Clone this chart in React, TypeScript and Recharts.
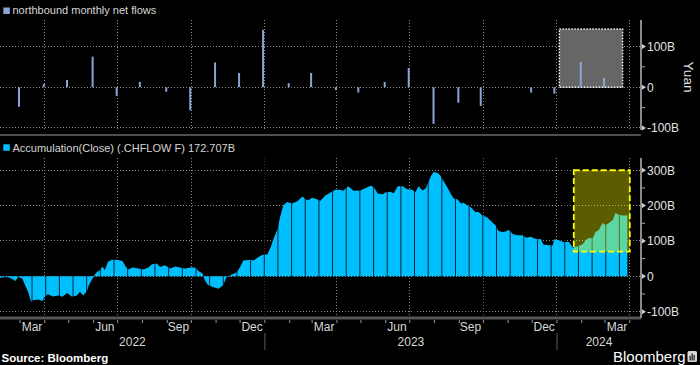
import React from 'react';
import { ComposedChart, Bar, Area, XAxis, YAxis, ReferenceLine, ReferenceArea, CartesianGrid } from 'recharts';

const FONT = "'Liberation Sans', Arial, Helvetica, sans-serif";

// ---- monthly net flows (billion yuan), bar at month end ----
const flowMonths = [
  '2022-02-28', '2022-03-31', '2022-04-29', '2022-05-31', '2022-06-30', '2022-07-29',
  '2022-08-31', '2022-09-30', '2022-10-31', '2022-11-30', '2022-12-30', '2023-01-31',
  '2023-02-28', '2023-03-31', '2023-04-28', '2023-05-31', '2023-06-30', '2023-07-31',
  '2023-08-31', '2023-09-28', '2023-10-31', '2023-11-30', '2023-12-29', '2024-01-31',
  '2024-02-29',
];
const flowValues = [
  -48, 8, 18, 75, -21, 13, -11, -57, 61, 35, 141, 10, 35, -7, -13, 13, 47, -90, -38, -46, 1,
  -13, -16, 62, 23,
];

// ---- accumulated flows (billion yuan) ----
const accDates = [
  '2022-02-04', '2022-02-13', '2022-02-19', '2022-02-23', '2022-02-27', '2022-03-04', '2022-03-07',
  '2022-03-11', '2022-03-15', '2022-03-17', '2022-03-24', '2022-03-29', '2022-04-01', '2022-04-05',
  '2022-04-11', '2022-04-18', '2022-04-23', '2022-04-29', '2022-05-05', '2022-05-11', '2022-05-15',
  '2022-05-19', '2022-05-24', '2022-05-26', '2022-05-30', '2022-06-02', '2022-06-05', '2022-06-09',
  '2022-06-12', '2022-06-15', '2022-06-19', '2022-06-24', '2022-06-30', '2022-07-07', '2022-07-10',
  '2022-07-14', '2022-07-20', '2022-07-27', '2022-08-02', '2022-08-08', '2022-08-13', '2022-08-19',
  '2022-08-23', '2022-08-29', '2022-09-05', '2022-09-11', '2022-09-17', '2022-09-23', '2022-09-30',
  '2022-10-06', '2022-10-10', '2022-10-15', '2022-10-18', '2022-10-22', '2022-10-28', '2022-11-04',
  '2022-11-10', '2022-11-14', '2022-11-21', '2022-11-27', '2022-12-01', '2022-12-05', '2022-12-14',
  '2022-12-18', '2022-12-23', '2022-12-29', '2023-01-04', '2023-01-08', '2023-01-12', '2023-01-17',
  '2023-01-20', '2023-01-24', '2023-01-29', '2023-02-04', '2023-02-11', '2023-02-17', '2023-02-21',
  '2023-02-24', '2023-03-01', '2023-03-08', '2023-03-11', '2023-03-18', '2023-03-24', '2023-03-30',
  '2023-04-05', '2023-04-09', '2023-04-15', '2023-04-22', '2023-04-30', '2023-05-07', '2023-05-13',
  '2023-05-17', '2023-05-22', '2023-05-28', '2023-06-01', '2023-06-07', '2023-06-11', '2023-06-16',
  '2023-06-22', '2023-06-28', '2023-07-04', '2023-07-08', '2023-07-12', '2023-07-17', '2023-07-21',
  '2023-07-23', '2023-07-28', '2023-07-31', '2023-08-05', '2023-08-08', '2023-08-13', '2023-08-18',
  '2023-08-21', '2023-08-25', '2023-08-30', '2023-09-03', '2023-09-06', '2023-09-11', '2023-09-15',
  '2023-09-21', '2023-09-25', '2023-09-30', '2023-10-06', '2023-10-13', '2023-10-16', '2023-10-20',
  '2023-10-25', '2023-10-29', '2023-11-02', '2023-11-07', '2023-11-13', '2023-11-19', '2023-11-24',
  '2023-11-29', '2023-12-05', '2023-12-12', '2023-12-15', '2023-12-22', '2023-12-27', '2023-12-28',
  '2024-01-03', '2024-01-09', '2024-01-16', '2024-01-21', '2024-01-27', '2024-02-02', '2024-02-08',
  '2024-02-15', '2024-02-18', '2024-02-22', '2024-02-27', '2024-03-02', '2024-03-06', '2024-03-11',
  '2024-03-14', '2024-03-18', '2024-03-23', '2024-03-27', '2024-03-29',
];
const accValues = [
  -4, -2, -7, -13, -2, -7, -23,
  -44, -73, -68, -66, -70, -58, -51,
  -57, -54, -58, -47, -58, -54, -44,
  -54, -40, -25, -9, 3, 12, 17,
  28, 17, 41, 47, 47, 43, 31,
  19, 25, 22, 19, 24, 34, 36,
  26, 31, 22, 28, 25, 22, 25,
  25, 15, 8, -11, -25, -30, -35,
  -25, -2, 5, 12, 26, 45, 47,
  45, 53, 61, 62, 81, 107, 135,
  168, 201, 210, 206, 213, 226, 217,
  215, 222, 217, 213, 229, 237, 245,
  245, 242, 255, 242, 243, 250, 256,
  253, 234, 232, 238, 239, 234, 255,
  255, 246, 245, 238, 255, 243, 249,
  260, 286, 295, 292, 286, 267, 248,
  234, 220, 217, 206, 208, 201, 196,
  182, 182, 172, 166, 151, 145, 128,
  125, 127, 132, 119, 116, 116, 109,
  112, 106, 105, 90, 88, 88, 105,
  102, 97, 97, 81, 85, 91, 107,
  109, 125, 130, 151, 145, 151, 160,
  179, 175, 172, 172, 172.707,
];

// ---- axes / annotations ----
const X_START = '2022-02-04';
const X_END = '2024-04-15';
const quarterStarts = [
  '2022-04-01', '2022-07-01', '2022-10-01', '2023-01-01', '2023-04-01', '2023-07-01',
  '2023-10-01', '2024-01-01', '2024-04-01',
];
const monthLabelDates = [
  '2022-03-16', '2022-06-15', '2022-09-15', '2022-12-16', '2023-03-16', '2023-06-15',
  '2023-09-15', '2023-12-16', '2024-03-16',
];
const monthLabels = ['Mar', 'Jun', 'Sep', 'Dec', 'Mar', 'Jun', 'Sep', 'Dec', 'Mar'];
const years = ['2022', '2023', '2024'];
const topTicks = [-100, -50, 0, 50, 100];
const topGrid = [100, 0, -100];
const bottomTicks = [-100, -50, 0, 50, 100, 150, 200, 250, 300];
const bottomGrid = [300, 200, 100, 0, -100];
const grayBox = { from: '2024-01-04', to: '2024-03-23', low: 0, high: 143 };
const yellowBox = { from: '2024-01-22', to: '2024-04-01', low: 70, high: 300 };
const BAR_GAP_FIRST = 39.9; // day offset of first histogram gap
const BAR_GAP_STEP = 17.07; // histogram gap spacing in days

const dn = (s: string) =>
  (Date.UTC(+s.slice(0, 4), +s.slice(5, 7) - 1, +s.slice(8, 10)) - Date.UTC(2022, 0, 1)) / 864e5;

const X_MIN = dn(X_START);
const X_MAX = dn(X_END);

const flowData = flowMonths.map((d, i) => ({ x: dn(d), flow: flowValues[i] }));
const accData = accDates.map((d, i) => ({ x: dn(d), acc: accValues[i] }));
const quarterDays = quarterStarts.map(dn).filter((d) => d >= X_MIN && d <= X_MAX);

const gapDays: number[] = [];
for (let d = BAR_GAP_FIRST; d <= dn(accDates[accDates.length - 1]); d += BAR_GAP_STEP) gapDays.push(d);

// x-axis tick info
type TickInfo = { month?: boolean; label?: string; year?: string; yearSep?: boolean };
const tickMap = new Map<number, TickInfo>();
const addTick = (v: number, info: TickInfo) => {
  const key = Math.round(v * 1000) / 1000;
  tickMap.set(key, { ...(tickMap.get(key) || {}), ...info });
};
for (let y = 2022; y <= 2024; y++) {
  for (let m = 1; m <= 12; m++) {
    const d = dn(`${y}-${String(m).padStart(2, '0')}-01`);
    if (d > X_MIN && d < X_MAX) addTick(d, { month: true, yearSep: m === 1 });
  }
}
monthLabelDates.forEach((d, i) => addTick(dn(d), { label: monthLabels[i] }));
years.forEach((y) => {
  const a = Math.max(dn(`${y}-01-01`), X_MIN);
  const b = Math.min(dn(`${+y + 1}-01-01`), X_MAX);
  addTick((a + b) / 2, { year: y });
});
const xTicks = Array.from(tickMap.keys()).sort((a, b) => a - b);

const XTick = (props: any) => {
  const { x, y, payload } = props;
  const info = tickMap.get(Math.round(payload.value * 1000) / 1000) || {};
  return (
    <g>
      {info.month && <line x1={x} x2={x} y1={y + 2} y2={y + 5} stroke="#9a9a9a" strokeWidth={1} />}
      {info.yearSep && <line x1={x} x2={x} y1={y + 15} y2={y + 32} stroke="#5a5a5a" strokeWidth={1} />}
      {info.label && (
        <text x={x} y={y + 13} textAnchor="middle" fill="#d8d8d8" fontSize={12} fontFamily={FONT}>
          {info.label}
        </text>
      )}
      {info.year && (
        <text x={x} y={y + 28} textAnchor="middle" fill="#d8d8d8" fontSize={12} fontFamily={FONT}>
          {info.year}
        </text>
      )}
    </g>
  );
};

const YTick = (props: any) => {
  const { y, payload } = props;
  const v = payload.value;
  const major = v % 100 === 0;
  const ax = 642;
  if (!major) return <line x1={ax} x2={ax + 3} y1={y} y2={y} stroke="#aaa" strokeWidth={1} />;
  return (
    <g>
      <path d={`M${ax},${y - 2.5} L${ax + 4},${y} L${ax},${y + 2.5} Z`} fill="#d0d0d0" />
      <text x={ax + 5} y={y} dy="0.36em" textAnchor="start" fill="#e2e2e2" fontSize={12} fontFamily={FONT}>
        {v === 0 ? '0' : `${v}B`}
      </text>
    </g>
  );
};

const GRID_COLOR = '#8c8c8c';

export default function App() {
  return (
    <div style={{ position: 'absolute', left: 0, top: 0, width: 700, height: 365, background: '#000', overflow: 'hidden' }}>
      {/* top panel */}
      <div style={{ position: 'absolute', left: 0, top: 0 }}>
        <ComposedChart width={700} height={134} data={flowData} margin={{ top: 20, right: 0, bottom: 4, left: 0 }}>
          <CartesianGrid
            stroke={GRID_COLOR}
            strokeDasharray="1 2"
            shapeRendering="crispEdges"
            horizontalValues={topGrid}
            verticalValues={quarterDays}
            fill="none"
          />
          <XAxis dataKey="x" type="number" domain={[X_MIN, X_MAX]} hide allowDataOverflow />
          <YAxis
            orientation="right"
            width={59}
            domain={[-105, 165]}
            ticks={topTicks}
            interval={0}
            allowDataOverflow
            axisLine={{ stroke: '#8a8a8a', strokeWidth: 2 }}
            tickLine={false}
            tickSize={0}
            tickMargin={0}
            tick={<YTick />}
          />
          <ReferenceArea
            x1={dn(grayBox.from)}
            x2={dn(grayBox.to)}
            y1={grayBox.low}
            y2={grayBox.high}
            fill="#666666"
            fillOpacity={1}
            stroke="#f2f2f2"
            strokeDasharray="1.5 1.5"
            strokeWidth={1.5}
            zIndex={60}
          />
          <Bar dataKey="flow" fill="#8aa4d6" barSize={2} isAnimationActive={false} zIndex={300} />
        </ComposedChart>
      </div>

      {/* separator */}
      <div style={{ position: 'absolute', left: 0, top: 134, width: 641, height: 2, background: '#4e4e4e' }} />

      {/* bottom panel */}
      <div style={{ position: 'absolute', left: 0, top: 134 }}>
        <ComposedChart width={700} height={231} data={accData} margin={{ top: 24, right: 0, bottom: 0, left: 0 }}>
          <CartesianGrid
            stroke={GRID_COLOR}
            strokeDasharray="1 2"
            shapeRendering="crispEdges"
            horizontalValues={bottomGrid}
            verticalValues={quarterDays}
            fill="none"
          />
          <XAxis
            dataKey="x"
            type="number"
            domain={[X_MIN, X_MAX]}
            allowDataOverflow
            ticks={xTicks}
            interval={0}
            height={47}
            axisLine={{ stroke: '#555', strokeWidth: 3 }}
            tickLine={false}
            tickSize={0}
            tickMargin={0}
            tick={<XTick />}
          />
          <YAxis
            orientation="right"
            width={59}
            domain={[-118, 334.7]}
            ticks={bottomTicks}
            interval={0}
            allowDataOverflow
            axisLine={{ stroke: '#8a8a8a', strokeWidth: 2 }}
            tickLine={false}
            tickSize={0}
            tickMargin={0}
            tick={<YTick />}
          />
          <Area
            dataKey="acc"
            type="linear"
            stroke="none"
            fill="#00BFFF"
            fillOpacity={1}
            baseValue={0}
            isAnimationActive={false}
            zIndex={100}
          />
          {gapDays.map((g) => (
            <ReferenceLine key={`g${g}`} x={g} stroke="#000" strokeOpacity={0.8} strokeWidth={1} zIndex={150} />
          ))}
          <ReferenceArea
            x1={dn(yellowBox.from)}
            x2={dn(yellowBox.to)}
            y1={yellowBox.low}
            y2={yellowBox.high}
            fill="#ffff00"
            fillOpacity={0.36}
            stroke="#ffff00"
            strokeDasharray="6 3"
            strokeWidth={1.8}
            zIndex={200}
          />
        </ComposedChart>
      </div>

      {/* texts overlay */}
      <svg width={700} height={365} style={{ position: 'absolute', left: 0, top: 0, pointerEvents: 'none' }}>
        <rect x={3.3} y={7.5} width={6.5} height={6.5} fill="#8aa4d6" />
        <text x={12.5} y={14} fill="#d6d6d6" fontSize={11} fontFamily={FONT}>
          northbound monthly net flows
        </text>
        <rect x={3.3} y={144.3} width={6.5} height={6.5} fill="#00BFFF" />
        <text x={12.5} y={152} fill="#d6d6d6" fontSize={11} fontFamily={FONT}>
          Accumulation(Close) (.CHFLOW F) 172.707B
        </text>
        <text transform="translate(684,77) rotate(90)" textAnchor="middle" fill="#e2e2e2" fontSize={13.5} fontFamily={FONT}>
          Yuan
        </text>
        <text x={1.5} y={362.3} fill="#ffffff" fontSize={11.5} fontWeight="bold" fontFamily={FONT}>
          Source: Bloomberg
        </text>
        <text x={613} y={362.3} fill="#ffffff" fontSize={15} fontFamily={FONT}>
          Bloomberg
        </text>
        <rect x={687.5} y={351} width={9.5} height={11} rx={1.5} fill="#d8d8d8" />
        <rect x={689.5} y={356} width={1.3} height={4.5} fill="#222" />
        <rect x={691.5} y={353.5} width={1.3} height={7} fill="#222" />
        <rect x={693.5} y={355} width={1.3} height={5.5} fill="#222" />
      </svg>
    </div>
  );
}
